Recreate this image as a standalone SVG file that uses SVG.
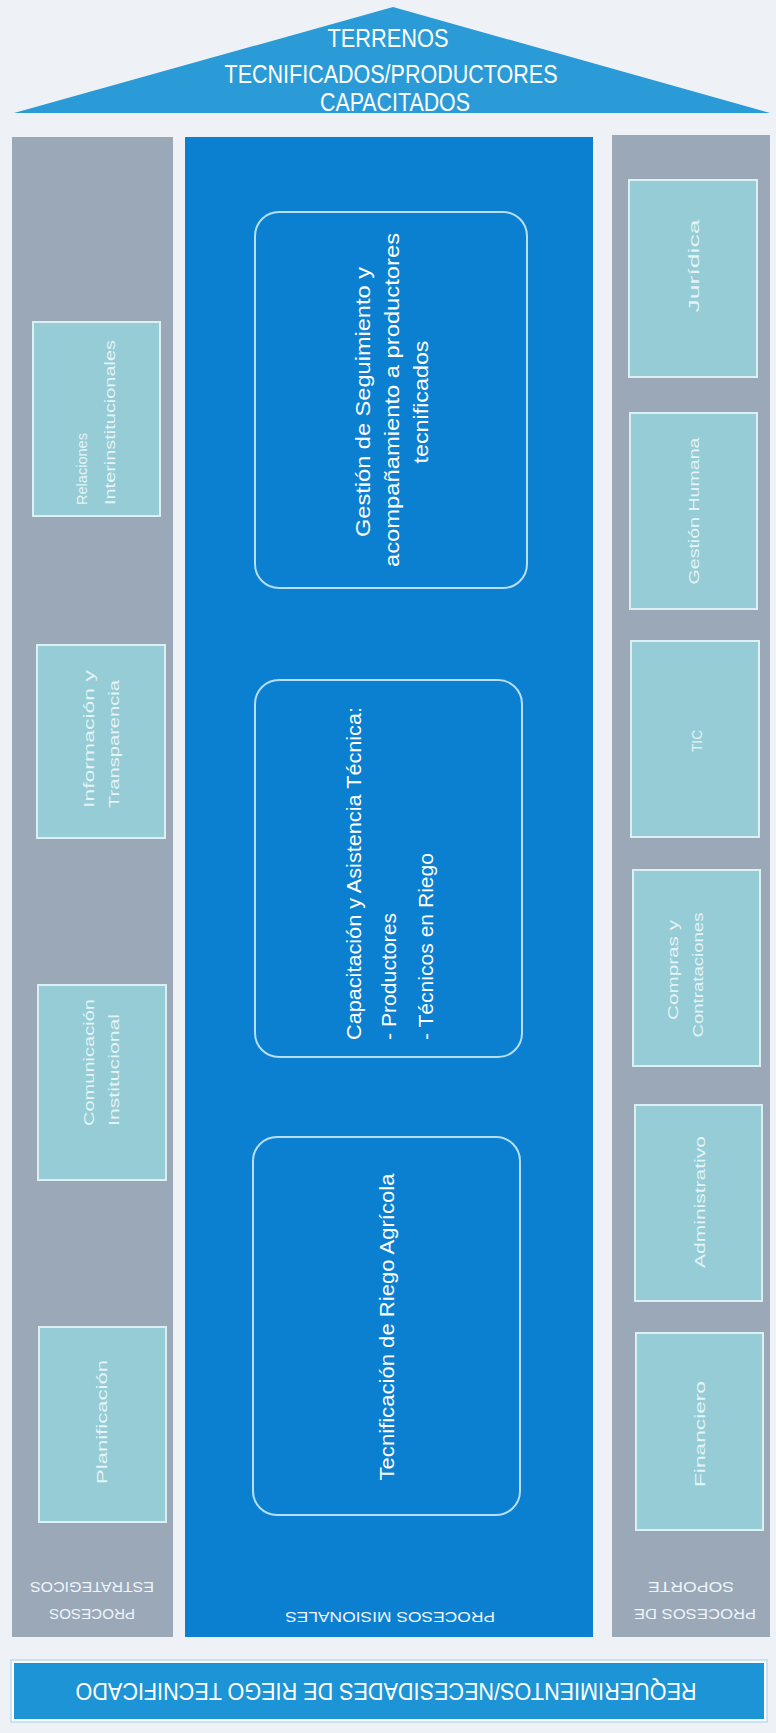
<svg xmlns="http://www.w3.org/2000/svg" width="776" height="1733" viewBox="0 0 776 1733">
<style>
text{font-family:"Liberation Sans","DejaVu Sans",Arial,sans-serif;}
.col{fill:#9ba8b8;}
.sub{fill:#95ccd5;stroke:#dcf0f3;stroke-width:2;}
.subt{fill:#e4f3f5;font-size:15px;}
.mbox{fill:none;stroke:#b7def5;stroke-width:2;}
.mt{fill:#ffffff;font-size:21px;}
.lbl{fill:#eef4f8;font-size:15px;text-anchor:middle;}
.roof{fill:#ffffff;font-size:26px;text-anchor:middle;}
</style>
<rect x="0" y="0" width="776" height="1733" fill="#eef2f6"/>

<g id="roof">
<polygon points="393,7 14,113 770,113" fill="#2a9bd7"/>
<text class="roof" x="388" y="47" textLength="121" lengthAdjust="spacingAndGlyphs">TERRENOS</text>
<text class="roof" x="391" y="83" textLength="333" lengthAdjust="spacingAndGlyphs">TECNIFICADOS/PRODUCTORES</text>
<text class="roof" x="395" y="111" textLength="150" lengthAdjust="spacingAndGlyphs">CAPACITADOS</text>
</g>

<g id="estrategicos">
<rect class="col" x="12" y="137" width="161" height="1500"/>
<text class="lbl" transform="translate(92,1609) rotate(180)" textLength="86" lengthAdjust="spacingAndGlyphs">PROCESOS</text>
<text class="lbl" transform="translate(92,1582) rotate(180)" textLength="124" lengthAdjust="spacingAndGlyphs">ESTRATEGICOS</text>
</g>

<g id="misionales">
<rect x="185" y="137" width="408" height="1500" fill="#0b7fd0"/>
<text class="lbl" transform="translate(390,1612) rotate(180)" fill="#ffffff" textLength="210" lengthAdjust="spacingAndGlyphs">PROCESOS MISIONALES</text>
</g>

<g id="soporte">
<rect class="col" x="612" y="135" width="158" height="1502"/>
<text class="lbl" transform="translate(695,1609) rotate(180)" textLength="122" lengthAdjust="spacingAndGlyphs">PROCESOS DE</text>
<text class="lbl" transform="translate(691,1582) rotate(180)" textLength="86" lengthAdjust="spacingAndGlyphs">SOPORTE</text>
</g>

<g id="relaciones">
<rect class="sub" x="33" y="322" width="127" height="194"/>
<text class="subt" transform="translate(87,505) rotate(-90)" textLength="72" lengthAdjust="spacingAndGlyphs">Relaciones</text>
<text class="subt" transform="translate(115,505) rotate(-90)" textLength="165" lengthAdjust="spacingAndGlyphs">Interinstitucionales</text>
</g>

<g id="informacion">
<rect class="sub" x="37" y="645" width="128" height="193"/>
<text class="subt" transform="translate(94,808) rotate(-90)" textLength="138" lengthAdjust="spacingAndGlyphs">Información y</text>
<text class="subt" transform="translate(119,808) rotate(-90)" textLength="128" lengthAdjust="spacingAndGlyphs">Transparencia</text>
</g>

<g id="comunicacion">
<rect class="sub" x="38" y="985" width="128" height="195"/>
<text class="subt" transform="translate(94,1126) rotate(-90)" textLength="127" lengthAdjust="spacingAndGlyphs">Comunicación</text>
<text class="subt" transform="translate(119,1126) rotate(-90)" textLength="112" lengthAdjust="spacingAndGlyphs">Institucional</text>
</g>

<g id="planificacion">
<rect class="sub" x="39" y="1327" width="127" height="195"/>
<text class="subt" text-anchor="middle" transform="translate(107,1422) rotate(-90)" textLength="124" lengthAdjust="spacingAndGlyphs">Planificación</text>
</g>

<g id="gestion-seguimiento">
<rect class="mbox" x="255" y="212" width="272" height="376" rx="24"/>
<text class="mt" text-anchor="middle" transform="translate(370,402) rotate(-90)" textLength="270" lengthAdjust="spacingAndGlyphs">Gestión de Seguimiento y</text>
<text class="mt" text-anchor="middle" transform="translate(399,400) rotate(-90)" textLength="334" lengthAdjust="spacingAndGlyphs">acompañamiento a productores</text>
<text class="mt" text-anchor="middle" transform="translate(428,402) rotate(-90)" textLength="123" lengthAdjust="spacingAndGlyphs">tecnificados</text>
</g>

<g id="capacitacion">
<rect class="mbox" x="255" y="680" width="267" height="377" rx="24"/>
<text class="mt" transform="translate(361,1040) rotate(-90)" textLength="333" lengthAdjust="spacingAndGlyphs">Capacitación y Asistencia Técnica:</text>
<text class="mt" transform="translate(396,1040) rotate(-90)" textLength="127" lengthAdjust="spacingAndGlyphs">- Productores</text>
<text class="mt" transform="translate(433,1040) rotate(-90)" textLength="187" lengthAdjust="spacingAndGlyphs">- Técnicos en Riego</text>
</g>

<g id="tecnificacion">
<rect class="mbox" x="253" y="1137" width="267" height="378" rx="24"/>
<text class="mt" font-size="20" text-anchor="middle" transform="translate(394,1327) rotate(-90)" textLength="307" lengthAdjust="spacingAndGlyphs">Tecnificación de Riego Agrícola</text>
</g>

<g id="juridica">
<rect class="sub" x="629" y="180" width="128" height="197"/>
<text class="subt" text-anchor="middle" transform="translate(699,266) rotate(-90)" textLength="93" lengthAdjust="spacingAndGlyphs">Jurídica</text>
</g>

<g id="gestion-humana">
<rect class="sub" x="630" y="413" width="127" height="196"/>
<text class="subt" text-anchor="middle" transform="translate(699,511) rotate(-90)" textLength="147" lengthAdjust="spacingAndGlyphs">Gestión Humana</text>
</g>

<g id="tic">
<rect class="sub" x="631" y="641" width="128" height="196"/>
<text class="subt" text-anchor="middle" transform="translate(702,741) rotate(-90)" textLength="22" lengthAdjust="spacingAndGlyphs">TIC</text>
</g>

<g id="compras">
<rect class="sub" x="633" y="870" width="127" height="196"/>
<text class="subt" text-anchor="middle" transform="translate(678,970) rotate(-90)" textLength="100" lengthAdjust="spacingAndGlyphs">Compras y</text>
<text class="subt" text-anchor="middle" transform="translate(703,975) rotate(-90)" textLength="125" lengthAdjust="spacingAndGlyphs">Contrataciones</text>
</g>

<g id="administrativo">
<rect class="sub" x="635" y="1105" width="127" height="196"/>
<text class="subt" text-anchor="middle" transform="translate(705,1202) rotate(-90)" textLength="132" lengthAdjust="spacingAndGlyphs">Administrativo</text>
</g>

<g id="financiero">
<rect class="sub" x="636" y="1333" width="127" height="197"/>
<text class="subt" text-anchor="middle" transform="translate(705,1434) rotate(-90)" textLength="106" lengthAdjust="spacingAndGlyphs">Financiero</text>
</g>

<g id="requerimientos">
<rect x="11" y="1660" width="756" height="62" fill="#ffffff" stroke="#b9dcf2" stroke-width="1.5"/>
<rect x="14" y="1663" width="750" height="56" fill="#1c94d6"/>
<text fill="#ffffff" font-size="24" text-anchor="middle" transform="translate(386,1683) rotate(180)" textLength="621" lengthAdjust="spacingAndGlyphs">REQUERIMIENTOS/NECESIDADES DE RIEGO TECNIFICADO</text>
</g>

<g id="connectors"></g>
</svg>
